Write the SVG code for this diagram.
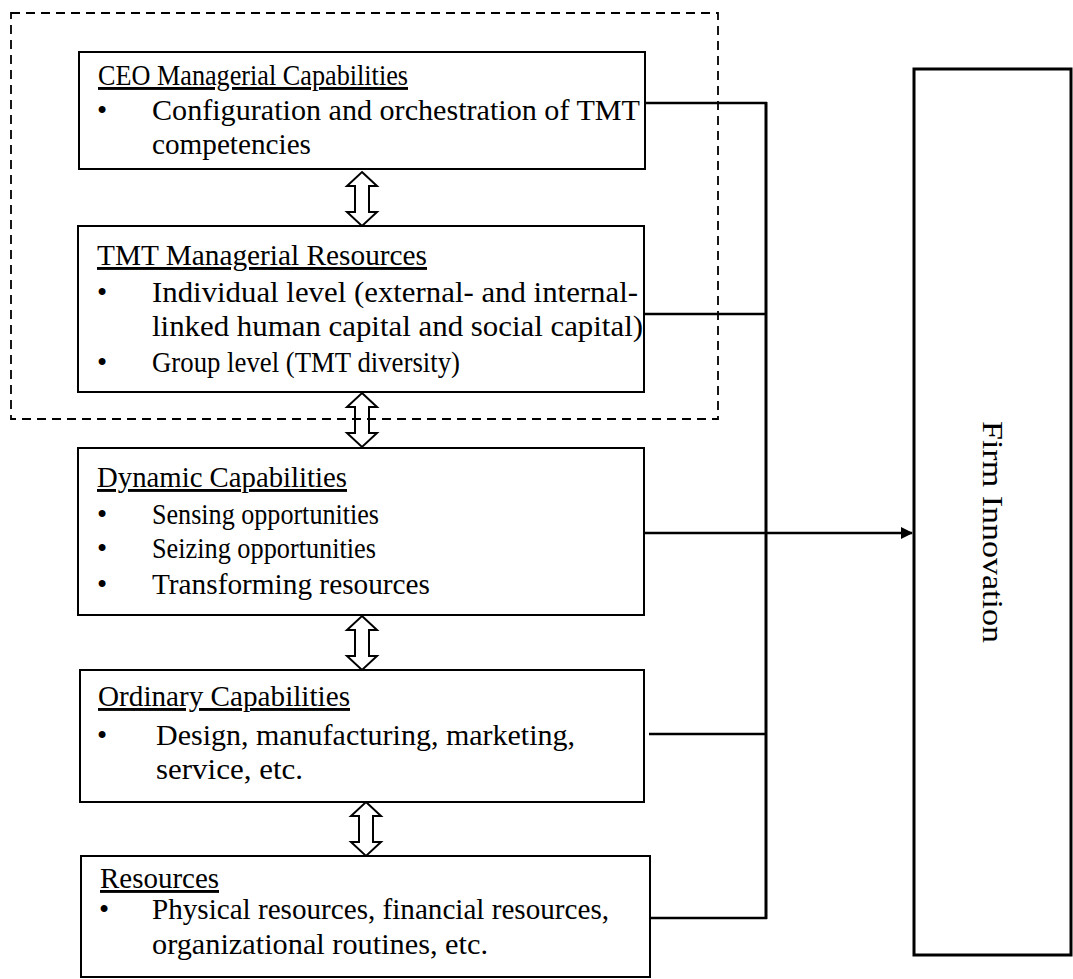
<svg xmlns="http://www.w3.org/2000/svg" width="1073" height="979" viewBox="0 0 1073 979">
<style>
.box{fill:#fff;stroke:#000;stroke-width:2}
.t{font-family:"Liberation Serif","Times New Roman",serif;font-size:29px;fill:#000}
.h{text-decoration:underline}
.dbl{fill:#fff;stroke:#000;stroke-width:2;stroke-linejoin:miter}
.ln{fill:none;stroke:#000;stroke-width:2.5}
</style>
<defs>
<marker id="ah" markerWidth="12" markerHeight="12" refX="11" refY="6" orient="auto" markerUnits="userSpaceOnUse">
<path d="M0,0 L12,6 L0,12 Z" fill="#000"/>
</marker>
</defs>
<rect width="1073" height="979" fill="#fff"/>

<g id="connectors">
<line class="ln" x1="645" y1="103" x2="767" y2="103"/>
<line class="ln" x1="644" y1="314" x2="767" y2="314"/>
<line class="ln" x1="649" y1="734" x2="767" y2="734"/>
<line class="ln" x1="650" y1="918" x2="767" y2="918"/>
<line x1="766" y1="102" x2="766" y2="919" stroke="#000" stroke-width="3"/>
<line class="ln" x1="644" y1="533" x2="912" y2="533" marker-end="url(#ah)"/>
<polygon class="dbl" points="362,172 377,186 369,186 369,212 377,212 362,226 347,212 355,212 355,186 347,186"/>
<polygon class="dbl" points="362,393 377,407 369,407 369,433 377,433 362,447 347,433 355,433 355,407 347,407"/>
<polygon class="dbl" points="362,616 377,630 369,630 369,656 377,656 362,670 347,656 355,656 355,630 347,630"/>
<polygon class="dbl" points="366,802 381,816 373,816 373,842 381,842 366,856 351,842 359,842 359,816 351,816"/>
</g>

<g id="ceo">
<rect class="box" x="79" y="52" width="566" height="117"/>
<text class="t h" x="98" y="85" textLength="310" lengthAdjust="spacingAndGlyphs">CEO Managerial  Capabilities</text>
<text class="t" x="97" y="120">•</text>
<text class="t" x="152" y="120" textLength="488" lengthAdjust="spacingAndGlyphs">Configuration and orchestration of TMT</text>
<text class="t" x="152" y="154" textLength="159" lengthAdjust="spacingAndGlyphs">competencies</text>
</g>

<g id="tmt">
<rect class="box" x="78" y="226" width="566" height="166"/>
<text class="t h" x="97" y="265" textLength="330" lengthAdjust="spacingAndGlyphs">TMT  Managerial  Resources</text>
<text class="t" x="97" y="302">•</text>
<text class="t" x="152" y="302" textLength="486" lengthAdjust="spacingAndGlyphs">Individual level (external- and internal-</text>
<text class="t" x="152" y="336" textLength="491" lengthAdjust="spacingAndGlyphs">linked human capital and social capital)</text>
<text class="t" x="97" y="372">•</text>
<text class="t" x="152" y="372" textLength="308" lengthAdjust="spacingAndGlyphs">Group level (TMT  diversity)</text>
</g>

<g id="dynamic">
<rect class="box" x="78" y="448" width="566" height="167"/>
<text class="t h" x="97" y="487" textLength="250" lengthAdjust="spacingAndGlyphs">Dynamic Capabilities</text>
<text class="t" x="97" y="524">•</text>
<text class="t" x="152" y="524" textLength="227" lengthAdjust="spacingAndGlyphs">Sensing opportunities</text>
<text class="t" x="97" y="558">•</text>
<text class="t" x="152" y="558" textLength="224" lengthAdjust="spacingAndGlyphs">Seizing opportunities</text>
<text class="t" x="97" y="594">•</text>
<text class="t" x="152" y="594" textLength="278" lengthAdjust="spacingAndGlyphs">Transforming resources</text>
</g>

<g id="ordinary">
<rect class="box" x="80" y="670" width="564" height="132"/>
<text class="t h" x="98" y="706" textLength="252" lengthAdjust="spacingAndGlyphs">Ordinary Capabilities</text>
<text class="t" x="97" y="745">•</text>
<text class="t" x="156" y="745" textLength="419" lengthAdjust="spacingAndGlyphs">Design, manufacturing, marketing,</text>
<text class="t" x="156" y="779" textLength="147" lengthAdjust="spacingAndGlyphs">service,  etc.</text>
</g>

<g id="resources">
<rect class="box" x="81" y="856" width="569" height="121"/>
<text class="t h" x="100" y="888" textLength="119" lengthAdjust="spacingAndGlyphs">Resources</text>
<text class="t" x="99" y="919">•</text>
<text class="t" x="152" y="919" textLength="457" lengthAdjust="spacingAndGlyphs">Physical resources, financial resources,</text>
<text class="t" x="152" y="954" textLength="336" lengthAdjust="spacingAndGlyphs">organizational routines, etc.</text>
</g>

<g id="firm">
<rect x="914" y="69" width="157" height="886" fill="#fff" stroke="#000" stroke-width="3"/>
<text class="t" transform="translate(983,532) rotate(90)" text-anchor="middle" textLength="222" lengthAdjust="spacingAndGlyphs">Firm Innovation</text>
</g>

<rect x="11" y="13" width="707" height="406" fill="none" stroke="#000" stroke-width="1.8" stroke-dasharray="9,6"/>
</svg>
